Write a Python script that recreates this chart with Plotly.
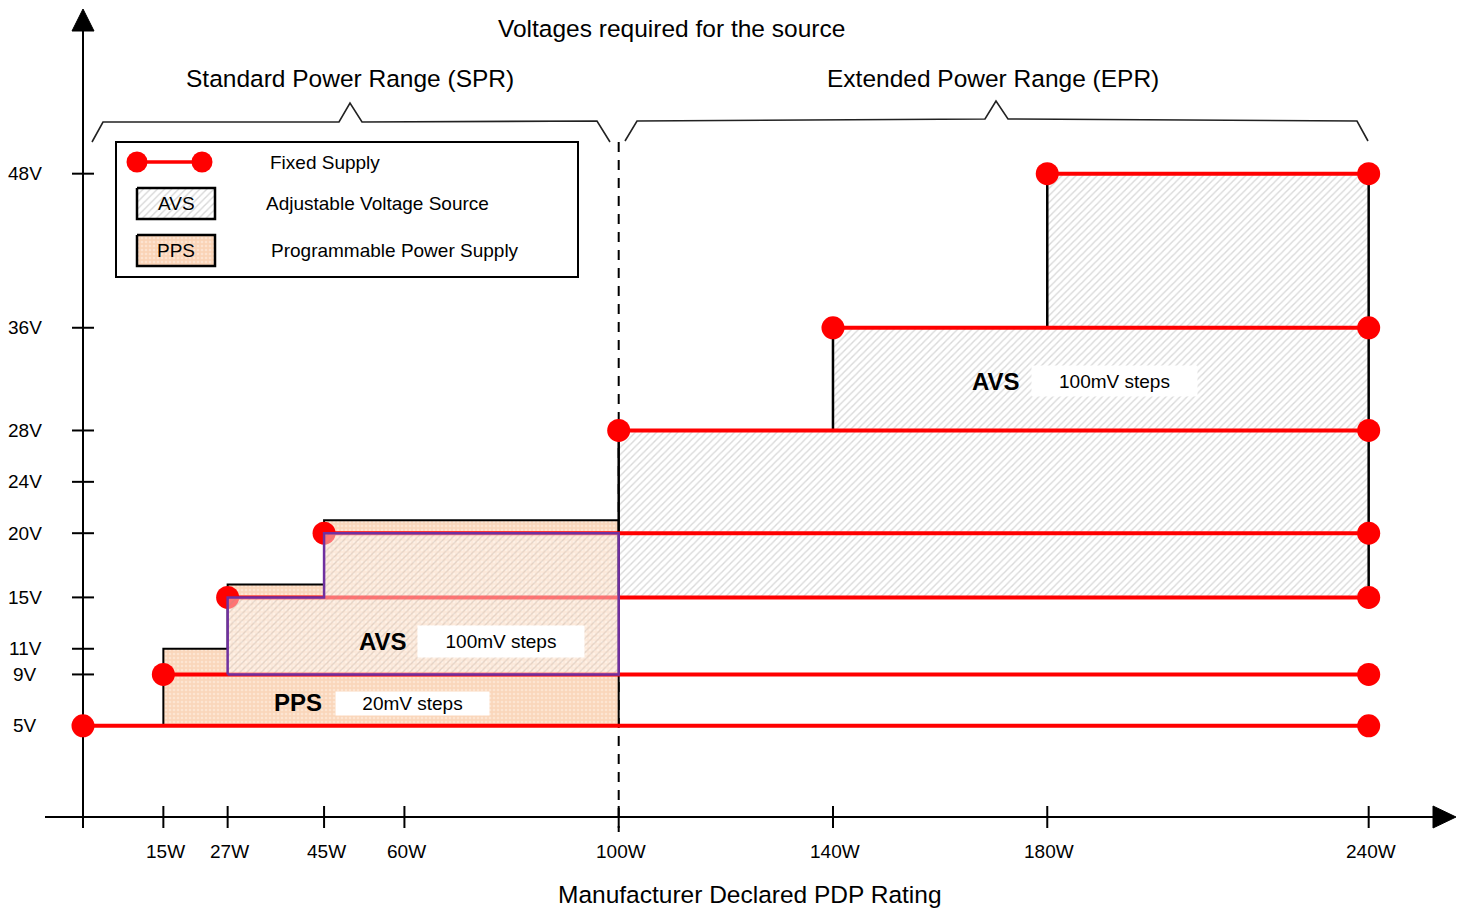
import plotly.graph_objects as go

# ---- chart data -------------------------------------------------------
watt_ticks = [15, 27, 45, 60, 100, 140, 180, 240]
watt_labels = ["15W", "27W", "45W", "60W", "100W", "140W", "180W", "240W"]
volt_ticks = [5, 9, 11, 15, 20, 24, 28, 36, 48]
volt_labels = ["5V", "9V", "11V", "15V", "20V", "24V", "28V", "36V", "48V"]

# Fixed supply rails: voltage, first rating where it is required, last rating
fixed_volts = [5, 9, 15, 20, 28, 36, 48]
fixed_start_w = [0, 15, 27, 45, 100, 140, 180]
fixed_end_w = [240, 240, 240, 240, 240, 240, 240]

# Programmable Power Supply (SPR): rating breakpoints and max voltage per step
pps_w = [15, 27, 45, 100]
pps_vmax = [11, 16, 21]
pps_vmin = 5

# Adjustable Voltage Source in SPR
avs_spr_w = [27, 45, 100]
avs_spr_vmax = [15, 20]
avs_spr_vmin = 9

# Adjustable Voltage Source in EPR
avs_epr_w = [100, 140, 180, 240]
avs_epr_vmax = [28, 36, 48]
avs_epr_vmin = 15

W, H = 1465, 909
FONT = "Liberation Sans, Arial, sans-serif"
RED = "#ff0000"
PURPLE = "#7030a0"


def step_region(edges, vmax, vmin):
    xs, ys = [edges[0]], [vmin]
    for i, v in enumerate(vmax):
        xs += [edges[i], edges[i + 1]]
        ys += [v, v]
    xs += [edges[-1], edges[0]]
    ys += [vmin, vmin]
    return xs, ys


fig = go.Figure()

# PPS region
px_, py_ = step_region(pps_w, pps_vmax, pps_vmin)
fig.add_trace(go.Scatter(
    x=px_, y=py_, mode="lines", fill="toself",
    fillcolor="#fad8bf",
    fillpattern=dict(shape=".", bgcolor="#fad6bb", fgcolor="#fff3ea", size=4, solidity=0.35),
    line=dict(color="black", width=2), hoverinfo="skip"))

# EPR AVS region
ex, ey = step_region(avs_epr_w, avs_epr_vmax, avs_epr_vmin)
fig.add_trace(go.Scatter(
    x=ex, y=ey, mode="lines", fill="toself",
    fillcolor="white",
    fillpattern=dict(shape="/", bgcolor="white", fgcolor="#b4b4b4", size=5, solidity=0.28),
    line=dict(color="black", width=2.5), hoverinfo="skip"))

# Fixed supply rails
fx, fy = [], []
for v, s, e in zip(fixed_volts, fixed_start_w, fixed_end_w):
    fx += [s, e, None]
    fy += [v, v, None]
fig.add_trace(go.Scatter(
    x=fx, y=fy, mode="lines+markers",
    line=dict(color=RED, width=4),
    marker=dict(color=RED, size=23, line=dict(width=0)),
    hoverinfo="skip"))

# SPR AVS region (translucent, drawn over the rails)
sx, sy = step_region(avs_spr_w, avs_spr_vmax, avs_spr_vmin)
fig.add_trace(go.Scatter(
    x=sx, y=sy, mode="lines", fill="toself",
    fillcolor="rgba(255,255,255,0.45)",
    fillpattern=dict(shape="/", bgcolor="rgba(255,255,255,0.45)",
                     fgcolor="rgba(160,140,130,0.55)", size=5, solidity=0.25),
    line=dict(color=PURPLE, width=2.5), hoverinfo="skip"))

# ---- legend icons (pixel overlay axes) --------------------------------
fig.add_trace(go.Scatter(
    x=[137, 215, 215, 137, 137], y=[188, 188, 219, 219, 188],
    xaxis="x2", yaxis="y2", mode="lines", fill="toself", fillcolor="white",
    fillpattern=dict(shape="/", bgcolor="white", fgcolor="#b0b0b0", size=5, solidity=0.28),
    line=dict(color="black", width=2.5), hoverinfo="skip"))
fig.add_trace(go.Scatter(
    x=[137, 215, 215, 137, 137], y=[235, 235, 266, 266, 235],
    xaxis="x2", yaxis="y2", mode="lines", fill="toself", fillcolor="#fad6bb",
    fillpattern=dict(shape=".", bgcolor="#fad3b6", fgcolor="#fff3ea", size=4, solidity=0.35),
    line=dict(color="black", width=2.5), hoverinfo="skip"))
fig.add_trace(go.Scatter(
    x=[137, 202], y=[162, 162], xaxis="x2", yaxis="y2",
    mode="lines+markers", line=dict(color=RED, width=3.5),
    marker=dict(color=RED, size=21), hoverinfo="skip"))

shapes = []
annotations = []

# axes with arrows (pixel coordinates)
AX_X, AX_Y = 83, 817
shapes.append(dict(type="line", xref="x2", yref="y2", x0=AX_X, x1=AX_X, y0=828, y1=28,
                   line=dict(color="black", width=2), layer="below"))
shapes.append(dict(type="path", xref="x2", yref="y2",
                   path=f"M {AX_X},9 L {AX_X-11},31 L {AX_X+11},31 Z",
                   fillcolor="black", line=dict(color="black", width=1), layer="below"))
shapes.append(dict(type="line", xref="x2", yref="y2", x0=45, x1=1436, y0=AX_Y, y1=AX_Y,
                   line=dict(color="black", width=2), layer="below"))
shapes.append(dict(type="path", xref="x2", yref="y2",
                   path=f"M 1456,{AX_Y} L 1433,{AX_Y-11} L 1433,{AX_Y+11} Z",
                   fillcolor="black", line=dict(color="black", width=1), layer="below"))

# tick marks and labels
for wv, wl in zip(watt_ticks, watt_labels):
    shapes.append(dict(type="line", xref="x", yref="y2", x0=wv, x1=wv, y0=806, y1=828,
                       line=dict(color="black", width=2), layer="below"))
    annotations.append(dict(x=wv, y=851, xref="x", yref="y2", text=wl, showarrow=False,
                            xshift=2, font=dict(family=FONT, size=19, color="black")))
for vv, vl in zip(volt_ticks, volt_labels):
    shapes.append(dict(type="line", xref="x2", yref="y", x0=AX_X - 11, x1=AX_X + 11, y0=vv, y1=vv,
                       line=dict(color="black", width=2), layer="below"))
    annotations.append(dict(x=25, y=vv, xref="x2", yref="y", text=vl, showarrow=False,
                            font=dict(family=FONT, size=19, color="black")))

# SPR / EPR divider
shapes.append(dict(type="line", xref="x", yref="y2", x0=100, x1=100, y0=142, y1=832,
                   line=dict(color="black", width=2, dash="10px,8px"), layer="below"))

# range braces
shapes.append(dict(type="path", xref="x2", yref="y2",
                   path="M 92,142 L 103,122 L 339,122 L 350,103 L 362,122 L 597,121 L 610,142",
                   line=dict(color="#222", width=1.6)))
shapes.append(dict(type="path", xref="x2", yref="y2",
                   path="M 625,141 L 637,121 L 985,119 L 996,101 L 1008,119 L 1357,121 L 1368,141",
                   line=dict(color="#222", width=1.6)))

# legend frame
shapes.append(dict(type="rect", xref="x2", yref="y2", x0=116, x1=578, y0=142, y1=277,
                   line=dict(color="black", width=2), fillcolor="rgba(0,0,0,0)"))


def text(x, y, s, size, bold=False, xanchor="center", ref=("x2", "y2"), **kw):
    annotations.append(dict(x=x, y=y, xref=ref[0], yref=ref[1],
                            text=f"<b>{s}</b>" if bold else s, showarrow=False,
                            xanchor=xanchor, font=dict(family=FONT, size=size, color="black"), **kw))


text(671, 28, "Voltages required for the source", 24.5)
text(350, 78, "Standard Power Range (SPR)", 24.5)
text(993, 78, "Extended Power Range (EPR)", 24.5)
text(750, 894, "Manufacturer Declared PDP Rating", 24.5)

# legend entries
text(268, 162, "Fixed Supply", 19, xanchor="left")
text(176, 203, "AVS", 19)
text(264, 203, "Adjustable Voltage Source", 19, xanchor="left")
text(176, 250, "PPS", 19)
text(269, 250, "Programmable Power Supply", 19, xanchor="left")

# region labels
text(996, 381, "AVS", 24, bold=True)
text(1114, 381, "100mV steps", 19, bgcolor="white", width=165, height=30, borderpad=0)
text(383, 641, "AVS", 24, bold=True)
text(501, 641, "100mV steps", 19, bgcolor="white", width=166, height=31, borderpad=0)
text(298, 702, "PPS", 24, bold=True)
text(412, 703, "20mV steps", 19, bgcolor="white", width=153, height=23, borderpad=0)

# pixel mapping: 0 W at x=83 px, 5.357 px per W; 0 V at y=790 px, 12.84 px per V
XPX0, XSC = 83.0, 5.357
YPX0, YSC = 790.0, 12.84

fig.update_layout(
    width=W, height=H,
    margin=dict(l=0, r=0, t=0, b=0, pad=0),
    paper_bgcolor="white", plot_bgcolor="white",
    showlegend=False,
    xaxis=dict(range=[-XPX0 / XSC, (W - XPX0) / XSC], visible=False, domain=[0, 1]),
    yaxis=dict(range=[(YPX0 - H) / YSC, YPX0 / YSC], visible=False, domain=[0, 1]),
    xaxis2=dict(range=[0, W], overlaying="x", anchor="y2", visible=False),
    yaxis2=dict(range=[H, 0], overlaying="y", anchor="x2", visible=False),
    shapes=shapes,
    annotations=annotations,
)

fig.write_html("out.html")
